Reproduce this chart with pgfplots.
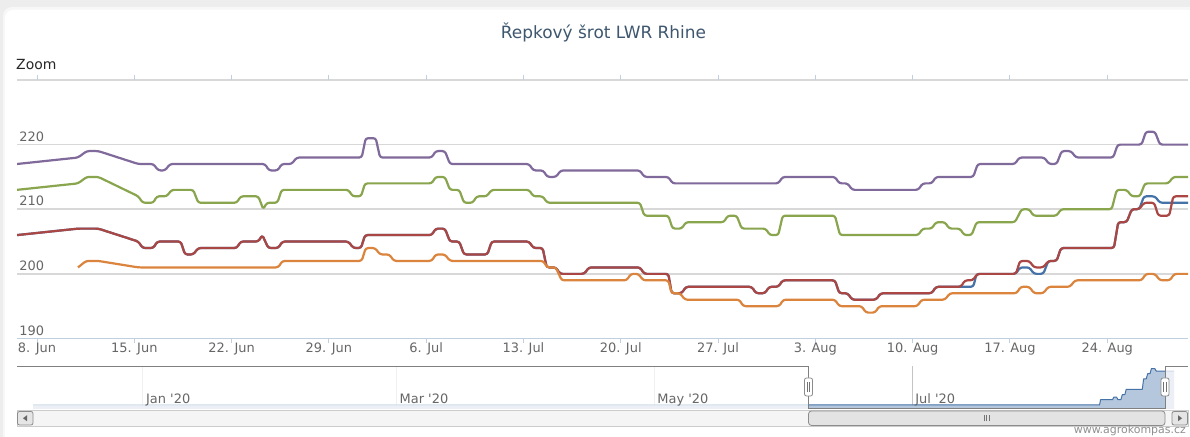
\documentclass[border=0pt]{standalone}
\usepackage{fontspec}
\setmainfont{DejaVu Sans}
\newfontfamily\plainfont{DejaVu Sans}
\usepackage{pgfplots}
\pgfplotsset{compat=1.18}
\definecolor{hcblue}{HTML}{4572A7}
\definecolor{hcred}{HTML}{AA4643}
\definecolor{hcgreen}{HTML}{89A54E}
\definecolor{hcpurple}{HTML}{80699B}
\definecolor{hcorange}{HTML}{DB843D}
\definecolor{gridc}{HTML}{D8D8D8}
\definecolor{axisc}{HTML}{C0D0E0}
\definecolor{labelc}{HTML}{666666}
\definecolor{titlec}{HTML}{3E576F}
\definecolor{navfill}{HTML}{B5C7DC}
\definecolor{navgrid}{HTML}{C4C4C4}
\definecolor{outc}{HTML}{808080}
\definecolor{credc}{HTML}{909090}
\begin{document}
\begin{tikzpicture}
\begin{scope}[x=1bp,y=1bp]
\fill[black!7] (0,0) rectangle (1190,437);
\fill[black!3] (1190,0) -- (3,0) [rounded corners=9bp] -- (3,430) [sharp corners] -- (1190,430) -- cycle;
\fill[white] (1190,0) -- (5,0) [rounded corners=8bp] -- (5,427) [sharp corners] -- (1190,427) -- cycle;
\node[anchor=base, inner sep=0pt, text=titlec, font=\fontsize{17}{20}\selectfont] at (603.5,398.5) {Řepkový šrot LWR Rhine};
\node[anchor=base west, inner sep=0pt, text=black!85, font=\fontsize{14}{16}\selectfont] at (16,367) {Zoom};
\end{scope}

\begin{axis}[
  at={(17bp,98.5bp)}, anchor=south west, scale only axis,
  width=1171bp, height=258.5bp,
  xmin=-1.44, xmax=82.81, ymin=190, ymax=230,
  axis line style={draw=none},
  ymajorgrids, grid style={draw=gridc, line width=1.5bp},
  ytick={190,200,210,220,230}, yticklabels={190,200,210,220,{}},
  xtick={0,7,14,21,28,35,42,49,56,63,70,77},
  xticklabels={8. Jun,15. Jun,22. Jun,29. Jun,6. Jul,13. Jul,20. Jul,27. Jul,3. Aug,10. Aug,17. Aug,24. Aug},
  tick align=outside, major tick length=5bp,
  xtick style={draw=axisc, line width=1bp},
  ytick style={draw=none},
  tick label style={font=\fontsize{13}{15}\selectfont, text=labelc},
  /pgf/number format/assume math mode=true,
  xticklabel style={anchor=base, inner sep=0pt, yshift=-9.5bp},
  yticklabel style={anchor=base west, inner sep=0pt, xshift=7.3bp, yshift=3.3bp},
  every axis plot/.append style={line width=2.2bp, line join=round, rounded corners=2.5bp, mark=none},
]
% blue
\addplot[hcblue] coordinates {(-1.44,206) (2.95,207) (4.41,207) (7.29,205) (7.60,204) (8.37,204) (8.65,205) (10.34,205) (10.65,203) (11.24,203) (11.60,204) (14.37,204) (14.65,205) (15.92,205) (16.21,206) (16.64,204) (17.36,204) (17.65,205) (22.40,205) (22.76,204) (23.31,204) (23.60,206) (28.40,206) (28.68,207) (29.35,207) (29.71,205) (30.38,205) (30.72,203) (32.40,203) (32.71,205) (35.40,205) (35.71,204) (36.38,204) (36.67,201) (37.32,201) (37.63,200) (39.37,200) (39.71,201) (43.38,201) (43.69,200) (45.42,200) (45.66,197) (46.38,197) (46.69,198) (51.42,198) (51.73,197) (52.37,197) (52.68,198) (53.33,198) (53.65,199) (57.41,199) (57.72,197) (58.32,197) (58.65,196) (60.36,196) (60.70,197) (64.37,197) (64.68,198) (67.36,198) (67.60,200) (70.43,200) (70.72,201) (71.39,201) (71.73,200) (72.40,200) (72.76,202) (73.36,202) (73.67,204) (77.48,204) (77.79,208) (78.40,208) (78.76,210) (79.30,210) (79.64,212) (80.43,212) (80.79,211) (82.81,211)};
% red
\addplot[hcred] coordinates {(-1.44,206) (2.95,207) (4.41,207) (7.29,205) (7.60,204) (8.37,204) (8.65,205) (10.34,205) (10.65,203) (11.24,203) (11.60,204) (14.37,204) (14.65,205) (15.92,205) (16.21,206) (16.64,204) (17.36,204) (17.65,205) (22.40,205) (22.76,204) (23.31,204) (23.60,206) (28.40,206) (28.68,207) (29.35,207) (29.71,205) (30.38,205) (30.72,203) (32.40,203) (32.71,205) (35.40,205) (35.71,204) (36.38,204) (36.67,201) (37.32,201) (37.63,200) (39.37,200) (39.71,201) (43.38,201) (43.69,200) (45.42,200) (45.66,197) (46.38,197) (46.69,198) (51.42,198) (51.73,197) (52.37,197) (52.68,198) (53.33,198) (53.65,199) (57.41,199) (57.72,197) (58.32,197) (58.65,196) (60.36,196) (60.70,197) (64.37,197) (64.68,198) (66.47,198) (66.76,199) (67.32,199) (67.65,200) (70.43,200) (70.72,202) (71.39,202) (71.73,201) (72.40,201) (72.76,202) (73.36,202) (73.67,204) (77.48,204) (77.79,208) (78.40,208) (78.76,210) (79.30,210) (79.64,211) (80.38,211) (80.67,209) (81.46,209) (81.75,212) (82.81,212)};
% green
\addplot[hcgreen] coordinates {(-1.44,213) (2.95,214) (3.58,215) (4.41,215) (7.29,212) (7.60,211) (8.37,211) (8.61,212) (9.33,212) (9.69,213) (11.24,213) (11.60,211) (14.37,211) (14.65,212) (15.92,212) (16.28,210) (16.53,211) (17.29,211) (17.60,213) (22.40,213) (22.71,212) (23.31,212) (23.60,214) (28.40,214) (28.68,215) (29.35,215) (29.71,213) (30.38,213) (30.72,211) (31.35,211) (31.63,212) (32.35,212) (32.71,213) (35.40,213) (35.71,212) (36.38,212) (36.71,211) (43.38,211) (43.69,209) (45.42,209) (45.73,207) (46.38,207) (46.69,208) (49.42,208) (49.69,209) (50.34,209) (50.70,207) (52.42,207) (52.73,206) (53.33,206) (53.65,209) (57.41,209) (57.77,206) (63.40,206) (63.72,207) (64.37,207) (64.68,208) (65.32,208) (65.63,207) (66.40,207) (66.71,206) (67.24,206) (67.60,208) (70.36,208) (70.84,210) (71.39,210) (71.68,209) (73.36,209) (73.67,210) (77.32,210) (77.68,213) (78.40,213) (78.76,212) (79.35,212) (79.71,214) (81.39,214) (81.75,215) (82.81,215)};
% purple
\addplot[hcpurple] coordinates {(-1.44,217) (2.95,218) (3.58,219) (4.41,219) (7.29,217) (8.37,217) (8.73,216) (9.21,216) (9.57,217) (16.40,217) (16.69,216) (17.32,216) (17.60,217) (18.32,217) (18.68,218) (23.36,218) (23.65,221) (24.37,221) (24.68,218) (28.40,218) (28.68,219) (29.35,219) (29.71,217) (35.40,217) (35.71,216) (36.42,216) (36.71,215) (37.34,215) (37.68,216) (43.38,216) (43.69,215) (45.42,215) (45.73,214) (53.33,214) (53.65,215) (57.41,215) (57.72,214) (58.32,214) (58.65,213) (63.40,213) (63.72,214) (64.37,214) (64.68,215) (67.36,215) (67.68,217) (70.36,217) (70.67,218) (72.47,218) (72.81,217) (73.36,217) (73.72,219) (74.39,219) (74.75,218) (77.43,218) (77.75,220) (79.47,220) (79.78,222) (80.43,222) (80.79,220) (82.81,220)};
% orange
\addplot[hcorange] coordinates {(2.95,201) (3.53,202) (4.41,202) (7.29,201) (17.36,201) (17.65,202) (23.36,202) (23.65,204) (24.32,204) (24.68,203) (25.35,203) (25.68,202) (28.40,202) (28.68,203) (29.35,203) (29.71,202) (36.42,202) (36.71,201) (37.32,201) (37.75,199) (42.42,199) (42.73,200) (43.26,200) (43.62,199) (45.42,199) (45.66,197) (46.26,197) (46.62,196) (50.53,196) (50.81,195) (53.40,195) (53.69,196) (57.41,196) (57.72,195) (59.33,195) (59.64,194) (60.29,194) (60.60,195) (63.33,195) (63.65,196) (65.32,196) (65.68,197) (70.48,197) (70.77,198) (71.39,198) (71.73,197) (72.40,197) (72.76,198) (74.32,198) (74.68,199) (79.47,199) (79.78,200) (80.43,200) (80.79,199) (81.51,199) (81.82,200) (82.81,200)};
\end{axis}

% navigator
\begin{axis}[
  at={(17bp,28bp)}, anchor=south west, scale only axis,
  width=1171bp, height=42.5bp,
  xmin=-188.8, xmax=88.3, ymin=196.44, ymax=212.78,
  axis line style={draw=none},
  xtick={-159,-99,-38,23}, xticklabels={},
  ytick=\empty,
  xmajorgrids, grid style={draw=navgrid, line width=1bp},
  xtick style={draw=none},
]
\addplot[draw=none, fill=navfill] coordinates {(-185.0,196.44) (-185.0,198) (67.36,198) (67.6,200) (70.43,200) (70.72,201) (71.39,201) (71.73,200) (72.4,200) (72.76,202) (73.36,202) (73.67,204) (77.48,204) (77.79,208) (78.4,208) (78.76,210) (79.3,210) (79.64,212) (80.43,212) (80.79,211) (85.0,211) (85.0,196.44)};
\addplot[draw=hcblue, line width=1bp, line join=round] coordinates {(-185.0,198) (67.36,198) (67.6,200) (70.43,200) (70.72,201) (71.39,201) (71.73,200) (72.4,200) (72.76,202) (73.36,202) (73.67,204) (77.48,204) (77.79,208) (78.4,208) (78.76,210) (79.3,210) (79.64,212) (80.43,212) (80.79,211) (85.0,211)};
\fill[white, fill opacity=0.75] (axis cs:-188.8,196.44) rectangle (axis cs:-1.44,212.78);
\fill[white, fill opacity=0.75] (axis cs:82.9,196.44) rectangle (axis cs:88.3,212.78);
\node[anchor=base west, inner sep=0pt, text=labelc, font=\fontsize{13}{15}\selectfont\plainfont, xshift=3bp, yshift=5bp] at (axis cs:-159,196.44) {Jan '20};
\node[anchor=base west, inner sep=0pt, text=labelc, font=\fontsize{13}{15}\selectfont\plainfont, xshift=3bp, yshift=5bp] at (axis cs:-99,196.44) {Mar '20};
\node[anchor=base west, inner sep=0pt, text=labelc, font=\fontsize{13}{15}\selectfont\plainfont, xshift=3bp, yshift=5bp] at (axis cs:-38,196.44) {May '20};
\node[anchor=base west, inner sep=0pt, text=labelc, font=\fontsize{13}{15}\selectfont\plainfont, xshift=3bp, yshift=5bp] at (axis cs:23,196.44) {Jul '20};
\end{axis}

\begin{scope}[x=1bp,y=1bp]
\draw[axisc, line width=1bp] (17,98.5) -- (1188,98.5);
\draw[outc, line width=1bp] (17,70.5) -- (808.5,70.5) -- (808.5,28) -- (1165,28) -- (1165,70.5) -- (1188,70.5);
\foreach \hx in {808.5,1165}{
  \filldraw[fill=white, draw=black!45, line width=0.8bp, rounded corners=2bp] (\hx-4,41) rectangle (\hx+4,59);
  \draw[black!55, line width=0.8bp] (\hx-1.3,45) -- (\hx-1.3,55) (\hx+1.3,45) -- (\hx+1.3,55);
}
\filldraw[fill=black!4, draw=black!20, line width=0.8bp] (17,11) rectangle (1188,27);
\filldraw[fill=black!10, draw=black!45, line width=0.8bp, rounded corners=2bp] (17.5,12) rectangle (33,25.5);
\fill[black!60] (23,18.75) -- (27,21.75) -- (27,15.75) -- cycle;
\filldraw[fill=black!10, draw=black!45, line width=0.8bp, rounded corners=2bp] (1172,12) rectangle (1187.5,25.5);
\fill[black!60] (1182,18.75) -- (1178,21.75) -- (1178,15.75) -- cycle;
\filldraw[fill=black!11, draw=black!45, line width=0.8bp, rounded corners=3bp] (808.5,11.5) rectangle (1165,26);
\draw[black!55, line width=0.8bp] (984.5,15.5) -- (984.5,22) (986.8,15.5) -- (986.8,22) (989.1,15.5) -- (989.1,22);
\node[anchor=base east, inner sep=0pt, text=credc, font=\fontsize{11}{12}\selectfont] at (1186,3) {www.agrokompas.cz};
\pgfresetboundingbox
\path[use as bounding box] (0,0) rectangle (1190,437);
\end{scope}
\end{tikzpicture}
\end{document}
